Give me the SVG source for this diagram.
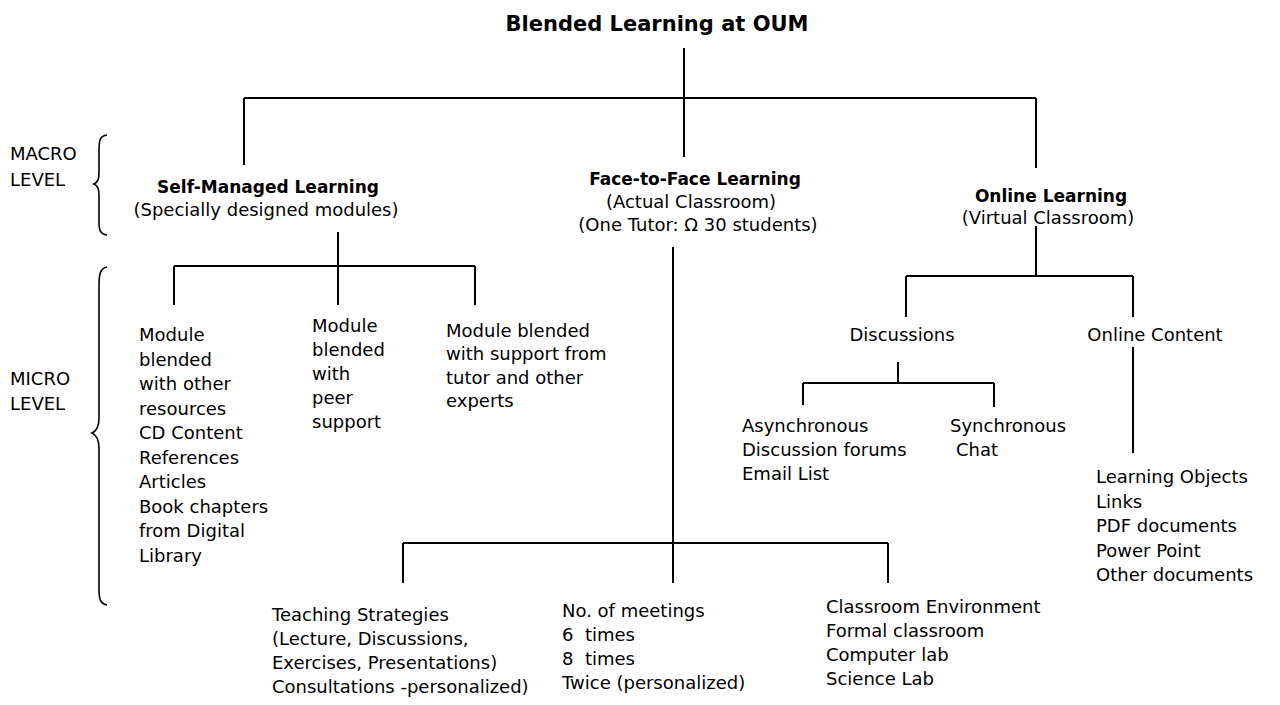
<svg xmlns="http://www.w3.org/2000/svg" width="1280" height="705" viewBox="0 0 1280 705">
<style>
text{font-family:"DejaVu Sans","Liberation Sans",sans-serif;font-size:18px;fill:#000}
.b{font-weight:bold;font-size:17px}
.t{font-weight:bold;font-size:21px}
.c{text-anchor:middle}
.ln{stroke:#000;stroke-width:2;fill:none}
.br{stroke:#000;stroke-width:1.6;fill:none}
</style>
<rect width="1280" height="705" fill="#fff"/>
<g id="connectors">
<path class="ln" d="M684,48V157M244,98H1036M244,98V165M1036,98V168"/>
<path class="ln" d="M338,232V305M174,266H475M174,266V305M475,266V305"/>
<path class="ln" d="M673,247V583M403,543H888M403,543V583M888,543V583"/>
<path class="ln" d="M1036,226V276M906,276H1133M906,276V317M1133,276V317M1133,347V453"/>
<path class="ln" d="M898,362V383M803,383H994M803,383V405M994,383V407"/>
</g>
<g id="braces">
<path class="br" d="M107,135C100,136 99,140 99,150L99,172C99,179 98,182 94,184C98,186 99,189 99,196L99,222C99,230 100,234 107,235"/>
<path class="br" d="M107,267C100,268 99,275 99,285L99,418C99,427 97,431 92,433C97,435 99,440 99,449L99,590C99,600 101,604 107,605"/>
</g>
<g id="title"><text class="t c" x="657" y="31">Blended Learning at OUM</text></g>
<g id="macro-label"><text x="10" y="160">MACRO</text><text x="10" y="186">LEVEL</text></g>
<g id="micro-label"><text x="10" y="385">MICRO</text><text x="10" y="410">LEVEL</text></g>
<g id="self-managed"><text class="b c" x="268" y="193">Self-Managed Learning</text><text class="c" x="266" y="216">(Specially designed modules)</text></g>
<g id="face-to-face"><text class="b c" x="695" y="185">Face-to-Face Learning</text><text class="c" x="691" y="208">(Actual Classroom)</text><text class="c" x="698" y="231">(One Tutor: Ω 30 students)</text></g>
<g id="online"><text class="b c" x="1051" y="202">Online Learning</text><text class="c" x="1048" y="224">(Virtual Classroom)</text></g>
<g id="module-resources"><text x="139" y="341">Module</text><text x="139" y="365.5">blended</text><text x="139" y="390">with other</text><text x="139" y="414.5">resources</text><text x="139" y="439">CD Content</text><text x="139" y="463.5">References</text><text x="139" y="488">Articles</text><text x="139" y="512.5">Book chapters</text><text x="139" y="537">from Digital</text><text x="139" y="561.5">Library</text></g>
<g id="module-peer"><text x="312" y="332">Module</text><text x="312" y="356">blended</text><text x="312" y="380">with</text><text x="312" y="404">peer</text><text x="312" y="428">support</text></g>
<g id="module-tutor"><text x="446" y="337">Module blended</text><text x="446" y="360">with support from</text><text x="446" y="384">tutor and other</text><text x="446" y="407">experts</text></g>
<g id="discussions"><text class="c" x="902" y="341">Discussions</text></g>
<g id="online-content"><text class="c" x="1155" y="341">Online Content</text></g>
<g id="asynchronous"><text x="742" y="432">Asynchronous</text><text x="742" y="456">Discussion forums</text><text x="742" y="480">Email List</text></g>
<g id="synchronous"><text x="950" y="432">Synchronous</text><text x="956" y="456">Chat</text></g>
<g id="content-list"><text x="1096" y="483">Learning Objects</text><text x="1096" y="507.5">Links</text><text x="1096" y="532">PDF documents</text><text x="1096" y="556.5">Power Point</text><text x="1096" y="581">Other documents</text></g>
<g id="teaching"><text x="272" y="621">Teaching Strategies</text><text x="272" y="645">(Lecture, Discussions,</text><text x="272" y="669">Exercises, Presentations)</text><text x="272" y="693">Consultations -personalized)</text></g>
<g id="meetings"><text x="562" y="617">No. of meetings</text><text x="562" y="641" xml:space="preserve">6  times</text><text x="562" y="665" xml:space="preserve">8  times</text><text x="562" y="689">Twice (personalized)</text></g>
<g id="environment"><text x="826" y="613">Classroom Environment</text><text x="826" y="637">Formal classroom</text><text x="826" y="661">Computer lab</text><text x="826" y="685">Science Lab</text></g>
</svg>
